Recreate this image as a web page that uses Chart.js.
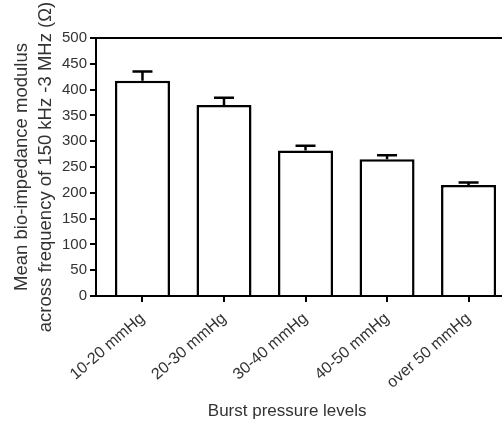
<!DOCTYPE html>
<html>
<head>
<meta charset="utf-8">
<script src="https://cdn.jsdelivr.net/npm/chart.js@4.4.0/dist/chart.umd.min.js"></script>
<style>
  body { margin: 0; background: #fff; }
  #wrap { width: 502px; height: 423px; }
</style>
</head>
<body>
<div id="wrap"><canvas id="barChart"></canvas></div>
<script>
// data
const categories = ['10-20 mmHg', '20-30 mmHg', '30-40 mmHg', '40-50 mmHg', 'over 50 mmHg'];
const means = [417, 370, 282, 265, 215];
const errors = [18, 14, 9, 8, 5];
const yTicks = [0, 50, 100, 150, 200, 250, 300, 350, 400, 450, 500];

const FONT = 'Liberation Sans, Arial, sans-serif';

// draws the upper error whisker with a cap on top of each bar
const errorBars = {
  id: 'errorBars',
  afterDatasetsDraw(chart) {
    const { ctx, scales: { x, y } } = chart;
    ctx.save();
    ctx.strokeStyle = '#000';
    ctx.lineWidth = 2.5;
    means.forEach((m, i) => {
      const cx = x.getPixelForValue(i);
      const yBar = y.getPixelForValue(m);
      const yTop = y.getPixelForValue(m + errors[i]);
      ctx.beginPath();
      ctx.moveTo(cx, yBar);
      ctx.lineTo(cx, yTop);
      ctx.moveTo(cx - 10, yTop);
      ctx.lineTo(cx + 10, yTop);
      ctx.stroke();
    });
    ctx.restore();
  }
};

new Chart(document.getElementById('barChart'), {
  type: 'bar',
  data: {
    datasets: [{
      data: means.map((v, i) => ({ x: i, y: v })),
      backgroundColor: '#fff',
      borderColor: '#000',
      borderWidth: 2.5,
      categoryPercentage: 0.675,
      barPercentage: 1
    }]
  },
  options: {
    responsive: true,
    maintainAspectRatio: false,
    animation: false,
    layout: { padding: { top: 38, right: 0, left: 0, bottom: 0 } },
    plugins: { legend: { display: false }, tooltip: { enabled: false } },
    scales: {
      x: {
        type: 'linear',
        min: -0.57,
        max: 4.41,
        offset: false,
        border: { color: '#000', width: 2 },
        grid: {
          offset: false,
          drawOnChartArea: false,
          color: '#000',
          tickColor: '#000',
          lineWidth: 2,
          tickLength: 6
        },
        afterBuildTicks(scale) { scale.ticks = categories.map((c, i) => ({ value: i })); },
        ticks: {
          color: '#333',
          font: { family: FONT, size: 16 },
          autoSkip: false,
          minRotation: 41,
          maxRotation: 41,
          padding: 7,
          callback: v => categories[v]
        },
        title: {
          display: true,
          text: 'Burst pressure levels     ',
          color: '#333',
          font: { family: FONT, size: 17 },
          padding: { top: 0, bottom: 1 }
        },
        afterFit(scale) { scale.height = 127; }
      },
      y: {
        min: 0,
        max: 500,
        border: { color: '#000', width: 2 },
        grid: {
          color: ctx => (ctx.tick && ctx.tick.value === 500) ? '#000' : 'rgba(0,0,0,0)',
          tickColor: '#000',
          lineWidth: 2,
          tickLength: 6
        },
        afterBuildTicks(scale) { scale.ticks = yTicks.map(v => ({ value: v })); },
        ticks: {
          color: '#333',
          font: { family: FONT, size: 15 },
          padding: 3
        },
        title: {
          display: true,
          text: ['Mean bio-impedance modulus', 'across frequency of 150 kHz -3 MHz (\u03A9)'],
          color: '#333',
          font: { family: FONT, size: 18.5, lineHeight: 1.3 },
          padding: { top: 10, bottom: 0 }
        },
        afterFit(scale) { scale.width = 96; }
      }
    }
  },
  plugins: [errorBars]
});
</script>
</body>
</html>
